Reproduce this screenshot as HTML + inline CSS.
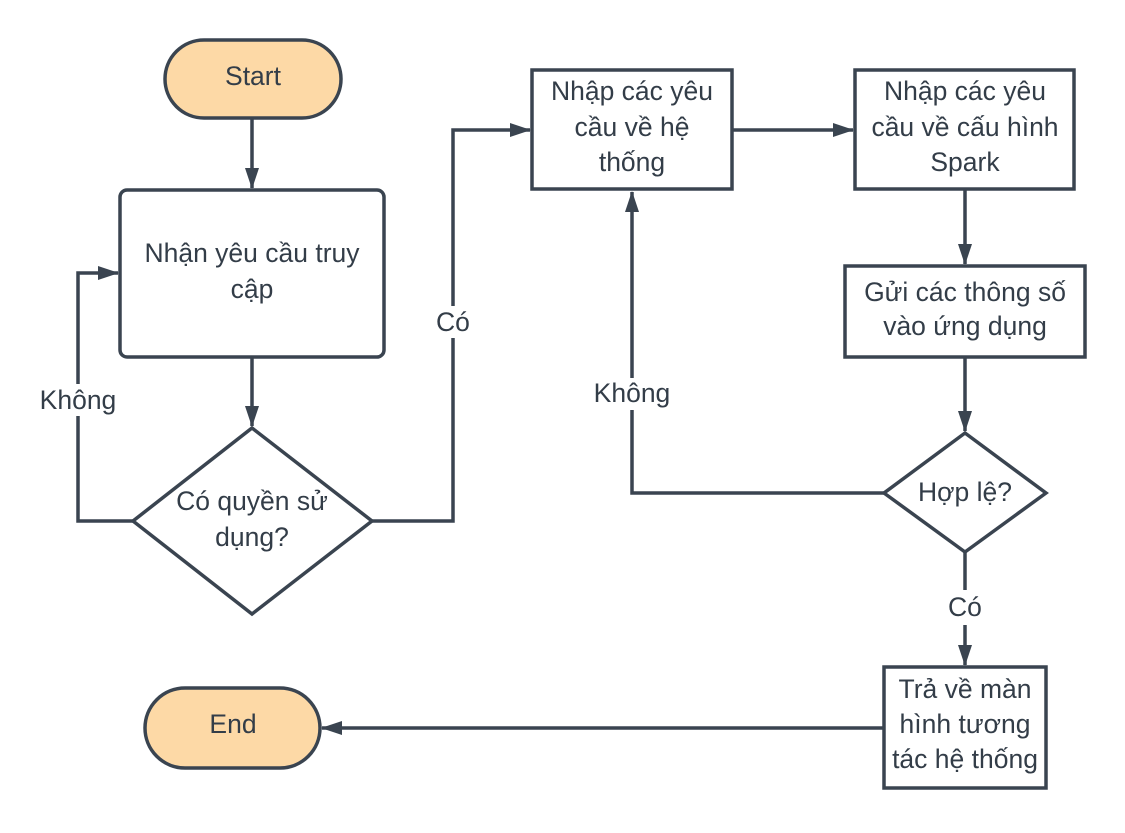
<!DOCTYPE html>
<html><head><meta charset="utf-8"><style>
html,body{margin:0;padding:0;background:#fff;}
svg text{font-family:"Liberation Sans",sans-serif;font-size:26.5px;fill:#333d48;text-anchor:middle;}
</style></head><body>
<svg width="1125" height="828" viewBox="0 0 1125 828" xmlns="http://www.w3.org/2000/svg">
<defs>
<marker id="b" markerWidth="22" markerHeight="20" refX="20" refY="10" orient="auto" markerUnits="userSpaceOnUse">
<path d="M0,3 L21,10 L0,17 z" fill="#3a4450"/></marker>
</defs>
<g stroke="#3a4450" stroke-width="3.5" fill="none">
<rect x="165" y="40" width="176" height="78" rx="39" fill="#fdd9a6"/>
<rect x="145" y="688" width="175" height="80" rx="40" fill="#fdd9a6"/>
<rect x="120" y="190" width="264" height="167" rx="7" fill="#fff"/>
<polygon points="252,428 372,521 252,614 133,521" fill="#fff"/>
<rect x="532" y="70" width="200" height="119" fill="#fff"/>
<rect x="855" y="70" width="219" height="119" fill="#fff"/>
<rect x="845" y="266" width="240" height="91" fill="#fff"/>
<polygon points="965,433 1046,493 965,552 884,493" fill="#fff"/>
<rect x="884" y="667" width="162" height="121" fill="#fff"/>
<path d="M252,118 V188" marker-end="url(#b)"/>
<path d="M252,357 V426" marker-end="url(#b)"/>
<path d="M133,521 H78 V273 H118" marker-end="url(#b)"/>
<path d="M372,521 H453 V130 H530" marker-end="url(#b)"/>
<path d="M732,130 H853" marker-end="url(#b)"/>
<path d="M965,189 V264" marker-end="url(#b)"/>
<path d="M965,357 V431" marker-end="url(#b)"/>
<path d="M884,493 H632 V192" marker-end="url(#b)"/>
<path d="M965,552 V590" />
<path d="M965,625 V665" marker-end="url(#b)"/>
<path d="M884,728 H322" marker-end="url(#b)"/>
</g>
<rect x="940" y="592" width="50" height="32" fill="#fff"/>
<rect x="420" y="306" width="66" height="32" fill="#fff"/>
<rect x="36" y="384" width="84" height="32" fill="#fff"/>
<rect x="590" y="378" width="84" height="32" fill="#fff"/>
<text x="253" y="85">Start</text>
<text x="233" y="733">End</text>
<text x="252" y="262">Nhận yêu cầu truy</text>
<text x="252" y="298">cập</text>
<text x="252" y="510">Có quyền sử</text>
<text x="252" y="546">dụng?</text>
<text x="632" y="100">Nhập các yêu</text>
<text x="632" y="136">cầu về hệ</text>
<text x="632" y="171">thống</text>
<text x="965" y="100">Nhập các yêu</text>
<text x="965" y="136">cầu về cấu hình</text>
<text x="965" y="171">Spark</text>
<text x="965" y="301">Gửi các thông số</text>
<text x="965" y="335">vào ứng dụng</text>
<text x="965" y="501">Hợp lệ?</text>
<text x="965" y="698">Trả về màn</text>
<text x="965" y="733">hình tương</text>
<text x="965" y="768">tác hệ thống</text>
<text x="78" y="409">Không</text>
<text x="453" y="331">Có</text>
<text x="632" y="402">Không</text>
<text x="965" y="616">Có</text>
</svg>
</body></html>
